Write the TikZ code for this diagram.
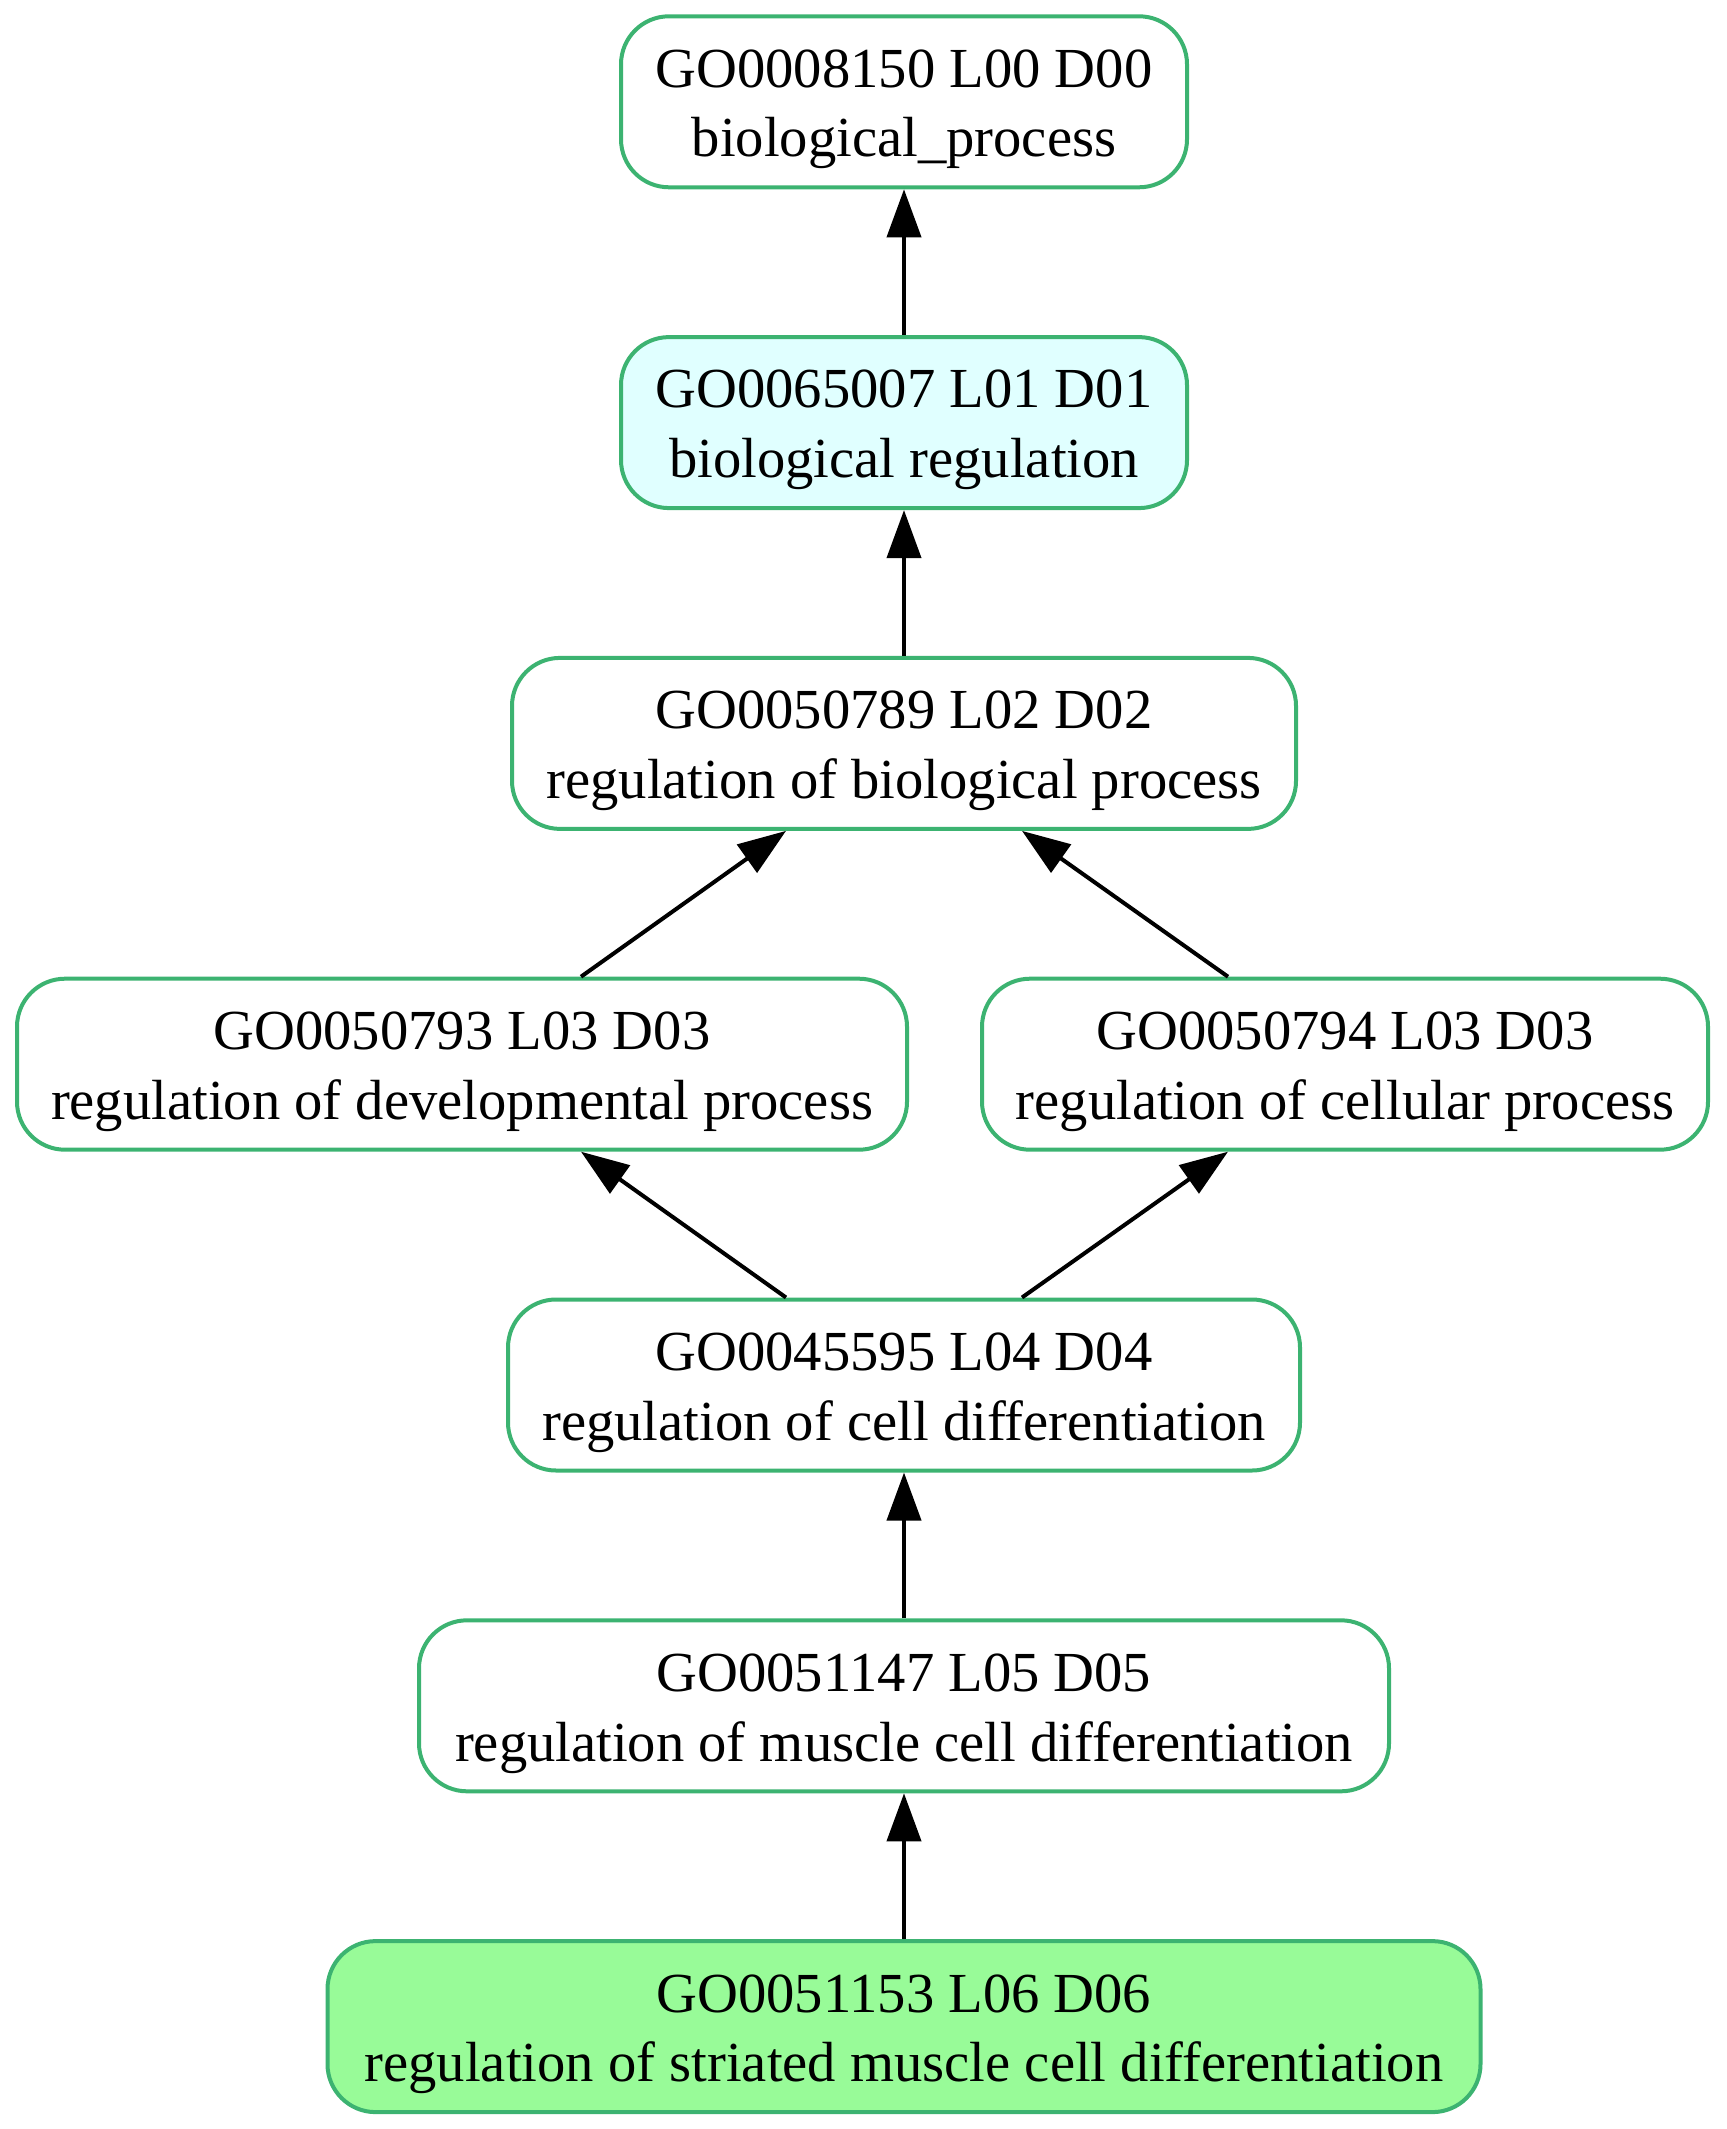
\documentclass[tikz,border=0pt]{standalone}
\usepackage{fontspec}
\setmainfont{Liberation Serif}
\usetikzlibrary{arrows.meta,calc}
\definecolor{gborder}{RGB}{60,179,113}
\definecolor{cyanfill}{RGB}{224,255,255}
\definecolor{greenfill}{RGB}{152,251,152}
\begin{document}
\begin{tikzpicture}[x=0.25pt,y=-0.25pt,
  gobox/.style={draw=gborder, line width=1pt, rounded corners=12pt, fill=white,
                inner sep=0pt, minimum height=42.75pt},
  lbl/.style={anchor=base, inner sep=0pt, font=\fontsize{14.15pt}{17pt}\selectfont},
  edge/.style={draw=black, line width=1pt, -{Triangle[length=12pt,width=8.5pt]}}]
\useasboundingbox (0,0) rectangle (1726,2129);

\node[gobox, minimum width=141.5pt] (n1) at (904,101.8) {};
\node[gobox, minimum width=141.5pt, fill=cyanfill] (n2) at (904,422.6) {};
\node[gobox, minimum width=196pt] (n3) at (904,743.4) {};
\node[gobox, minimum width=222.5pt] (n4) at (462,1064.2) {};
\node[gobox, minimum width=181.5pt] (n5) at (1345,1064.2) {};
\node[gobox, minimum width=198pt] (n6) at (904,1385.0) {};
\node[gobox, minimum width=242.5pt] (n7) at (904,1705.8) {};
\node[gobox, minimum width=288.25pt, fill=greenfill] (n8) at (904,2026.6) {};

\node[lbl] (t1a) at ($(n1.center)+(0,-14.6)$) {GO0008150 L00 D00};
\node[lbl] (t1b) at ($(n1.center)+(0,55.2)$) {biological\_process};
\node[lbl] (t2a) at ($(n2.center)+(0,-14.6)$) {GO0065007 L01 D01};
\node[lbl] (t2b) at ($(n2.center)+(0,55.2)$) {biological regulation};
\node[lbl] (t3a) at ($(n3.center)+(0,-14.6)$) {GO0050789 L02 D02};
\node[lbl] (t3b) at ($(n3.center)+(0,55.2)$) {regulation of biological process};
\node[lbl] (t4a) at ($(n4.center)+(0,-14.6)$) {GO0050793 L03 D03};
\node[lbl] (t4b) at ($(n4.center)+(0,55.2)$) {regulation of developmental process};
\node[lbl] (t5a) at ($(n5.center)+(0,-14.6)$) {GO0050794 L03 D03};
\node[lbl] (t5b) at ($(n5.center)+(0,55.2)$) {regulation of cellular process};
\node[lbl] (t6a) at ($(n6.center)+(0,-14.6)$) {GO0045595 L04 D04};
\node[lbl] (t6b) at ($(n6.center)+(0,55.2)$) {regulation of cell differentiation};
\node[lbl] (t7a) at ($(n7.center)+(0,-14.6)$) {GO0051147 L05 D05};
\node[lbl] (t7b) at ($(n7.center)+(0,55.2)$) {regulation of muscle cell differentiation};
\node[lbl] (t8a) at ($(n8.center)+(0,-14.6)$) {GO0051153 L06 D06};
\node[lbl] (t8b) at ($(n8.center)+(0,55.2)$) {regulation of striated muscle cell differentiation};

\draw[edge] (n2.north) -- (n1.south);
\draw[edge] (n3.north) -- (n2.south);
\draw[edge] ($(n4.north)+(119,0)$) -- ($(n3.south)+(-118,0)$);
\draw[edge] ($(n5.north)+(-117,0)$) -- ($(n3.south)+(118,0)$);
\draw[edge] ($(n6.north)+(-118,0)$) -- ($(n4.south)+(119,0)$);
\draw[edge] ($(n6.north)+(118,0)$) -- ($(n5.south)+(-117,0)$);
\draw[edge] (n7.north) -- (n6.south);
\draw[edge] (n8.north) -- (n7.south);
\end{tikzpicture}
\end{document}
